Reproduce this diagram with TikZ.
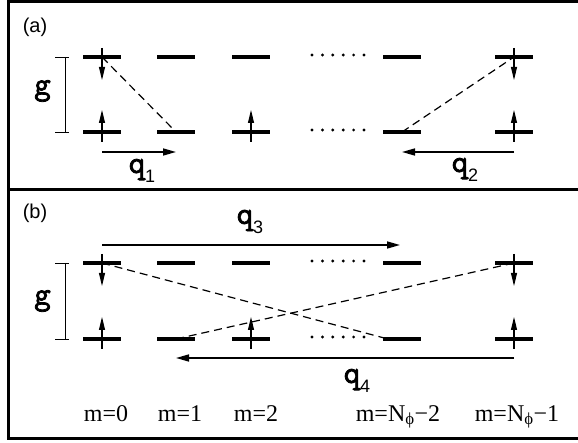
\documentclass[tikz,border=0pt]{standalone}
\usepackage{fontspec}
\setmainfont{Liberation Serif}
\setsansfont{Liberation Sans}
\newfontfamily\qgfont{Latin Modern Mono}[FakeBold=2.5]
\usepackage{tikz}
\usetikzlibrary{arrows.meta,positioning,calc}

% wave vector label with its index
\newcommand{\qlab}[1]{q\raisebox{-10pt}{\sffamily\fontsize{18}{18}\selectfont #1}}

\begin{document}
\begin{tikzpicture}[x=1pt,y=-1pt,
    level/.style={fill=black, inner sep=0pt, minimum width=38pt, minimum height=4pt},
    spin/.style={line width=1.1pt, -{Triangle[length=13pt,width=6pt]}},
    hop/.style={line width=1.2pt, dash pattern=on 8pt off 5pt},
    qarrow/.style={line width=1.6pt, -{Triangle[length=13pt,width=7pt]}},
    qlabel/.style={font=\qgfont\fontsize{32}{32}\selectfont, inner sep=0pt},
    panel/.style={font=\sffamily\fontsize{20}{24}\selectfont, inner sep=0pt},
    mlabel/.style={font=\fontsize{24}{28}\selectfont, anchor=base, inner sep=0pt}]
    \useasboundingbox (0,0) rectangle (578,443);

    % frame and panel divider
    \draw[line width=3pt] (8.5,1.5) rectangle (595,438.5);
    \draw[line width=3pt] (8.5,190) -- (595,190);
    \node[panel] (pa) at (35,27) {(a)};
    \node[panel] (pb) at (35,213) {(b)};

    % Landau levels, top and bottom row of both panels
    \foreach \x/\n in {102/1,176/2,251/3,402/4,514/5} {
        \node[level] (at\n) at (\x,57) {};
        \node[level] (ab\n) at (\x,132) {};
        \node[level] (bt\n) at (\x,263) {};
        \node[level] (bb\n) at (\x,339) {};
    }
    \foreach \y in {55,130,261,337}
        \foreach \i in {0,...,5}
            \fill ({312+10.4*\i},\y) circle (1.6);

    % occupied sites
    \foreach \n in {at1,at5,bt1,bt5}
        \draw[spin] ([yshift=9pt]\n.center) -- ([yshift=-23pt]\n.center);
    \foreach \n in {ab1,ab3,ab5,bb1,bb3,bb5}
        \draw[spin] ([yshift=-10pt]\n.center) -- ([yshift=22pt]\n.center);

    % gap g
    \foreach \t/\b in {57/132,263/339} {
        \draw[line width=0.8pt] (65,\t) -- (65,\b);
        \draw[line width=0.8pt] (55,\t) -- (69,\t);
        \draw[line width=0.8pt] (55,\b) -- (69,\b);
    }
    \node[qlabel] (ga) at (42.5,91) {g};
    \node[qlabel] (gb) at (42.5,301) {g};

    % panel (a): hops q1, q2
    \draw[hop] (at1.center) -- (ab2.center);
    \draw[hop] (ab4.center) -- (at5.center);
    \draw[qarrow] ([yshift=-20pt]ab1.center) -- ([yshift=-20pt]ab2.center);
    \draw[qarrow] ([yshift=-20pt]ab5.center) -- ([yshift=-20pt]ab4.center);
    \node[qlabel] (q1) at (142,171) {\qlab{1}};
    \node[qlabel] (q2) at (465,170) {\qlab{2}};

    % panel (b): hops q3, q4
    \draw[hop] (bt1.center) -- ([xshift=-14pt]bb4.center);
    \draw[hop] (bb2.center) -- (bt5.center);
    \draw[qarrow] ([yshift=18pt]bt1.center) -- ([yshift=18pt,xshift=-2pt]bt4.center);
    \draw[qarrow] ([yshift=-19pt]bb5.center) -- ([yshift=-19pt]bb2.center);
    \node[qlabel] (q3) at (250,222) {\qlab{3}};
    \node[qlabel] (q4) at (357,381) {\qlab{4}};

    % orbital index
    \node[mlabel] (m0) at (106,421) {m=0};
    \node[mlabel] (m1) at (180,421) {m=1};
    \node[mlabel] (m2) at (256,421) {m=2};
    \node[mlabel] (m3) at (398,421) {m=N\textsubscript{ϕ}−2};
    \node[mlabel] (m4) at (517,421) {m=N\textsubscript{ϕ}−1};
\end{tikzpicture}
\end{document}
